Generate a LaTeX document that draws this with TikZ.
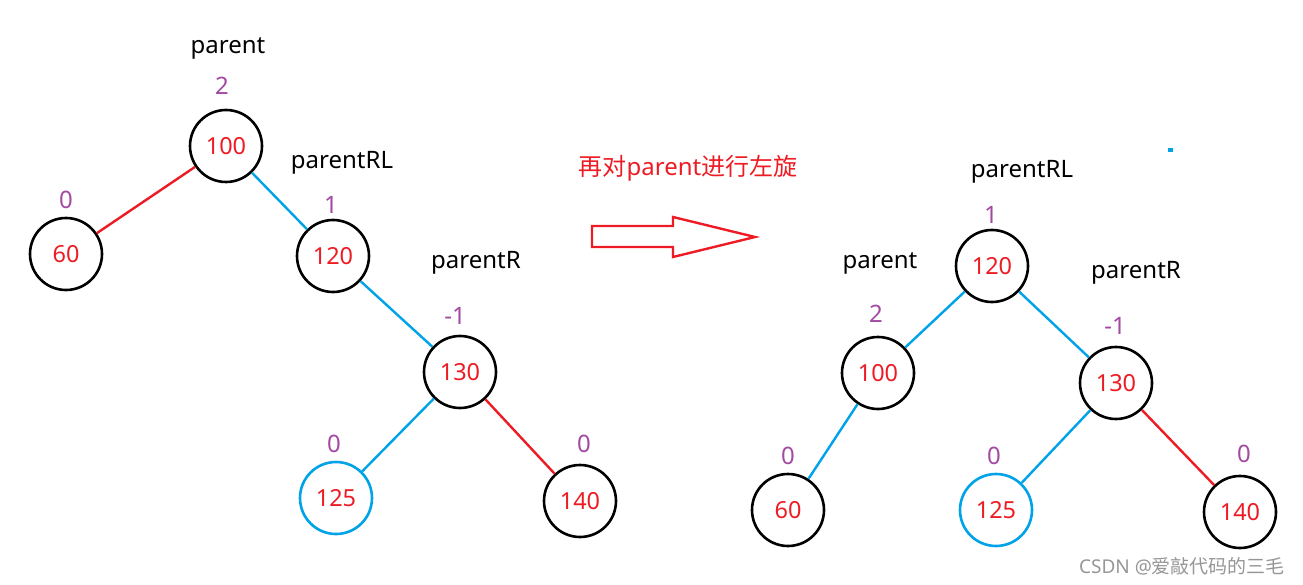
\documentclass[tikz,border=0pt]{standalone}
\usepackage{fontspec}
\setmainfont{Noto Sans}
\newfontfamily\cjk{Noto Sans CJK SC}
\definecolor{nred}{RGB}{237,28,36}
\definecolor{nblue}{RGB}{0,162,232}
\definecolor{npurple}{RGB}{163,73,164}
\definecolor{wm}{RGB}{150,150,150}
\begin{document}
\begin{tikzpicture}[x=1pt,y=-1pt,
  nd/.style={circle,draw=black,line width=2.6pt,minimum size=72pt,inner sep=0pt,text=nred,font=\fontsize{23.5}{26}\selectfont},
  bnd/.style={nd,draw=nblue},
  lbl/.style={font=\fontsize{24}{26}\selectfont,text=black},
  bf/.style={font=\fontsize{24}{26}\selectfont,text=npurple},
  be/.style={draw=nblue,line width=2.4pt},
  re/.style={draw=nred,line width=2.4pt}]
\useasboundingbox (0,0) rectangle (1303,585);
% left tree
\node[nd] (a100) at (226,146) {100};
\node[nd] (a60) at (66,254) {60};
\node[nd] (a120) at (333,256) {120};
\node[nd] (a130) at (460,372) {130};
\node[bnd] (a125) at (336,498) {125};
\node[nd] (a140) at (580,501) {140};
\draw[re] (a100) -- (a60);
\draw[be] (a100) -- (a120);
\draw[be] (a120) -- (a130);
\draw[be] (a130) -- (a125);
\draw[re] (a130) -- (a140);
\node[lbl] (lp) at (228,48) {parent};
\node[bf] (b100) at (222,86) {2};
\node[bf] (b60) at (66,200) {0};
\node[lbl] (lprl) at (342,163) {parentRL};
\node[bf] (b120) at (331,205) {1};
\node[lbl] (lpr) at (476,263) {parentR};
\node[bf] (b130) at (455,316) {-1};
\node[bf] (b125) at (334,444) {0};
\node[bf] (b140) at (584,444) {0};
% middle
\node[font=\fontsize{24}{26}\selectfont,text=nred] (cap) at (688,168) {{\cjk 再对}parent{\cjk 进行左旋}};
\draw[nred,line width=2.4pt] (592,226) -- (673,226) -- (673,217) -- (755,237) -- (673,257) -- (673,247) -- (592,247) -- cycle;
% right tree
\node[nd] (c120) at (992,266) {120};
\node[nd] (c100) at (878,373) {100};
\node[nd] (c60) at (788,510) {60};
\node[nd] (c130) at (1116,383) {130};
\node[bnd] (c125) at (996,510) {125};
\node[nd] (c140) at (1240,512) {140};
\draw[be] (c120) -- (c100);
\draw[be] (c120) -- (c130);
\draw[be] (c100) -- (c60);
\draw[be] (c130) -- (c125);
\draw[re] (c130) -- (c140);
\node[lbl] (rprl) at (1022,172) {parentRL};
\node[bf] (d120) at (991,215) {1};
\node[lbl] (rp) at (880,263) {parent};
\node[bf] (d100) at (876,314) {2};
\node[lbl] (rpr) at (1136,273) {parentR};
\node[bf] (d130) at (1115,326) {-1};
\node[bf] (d60) at (788,456) {0};
\node[bf] (d125) at (994,456) {0};
\node[bf] (d140) at (1244,454) {0};
\fill[nblue] (1168,148) rectangle (1173,152);
\node[text=wm,font=\fontsize{19}{21}\selectfont] (wmk) at (1182,566) {CSDN @{\cjk 爱敲代码的三毛}};
\end{tikzpicture}
\end{document}
